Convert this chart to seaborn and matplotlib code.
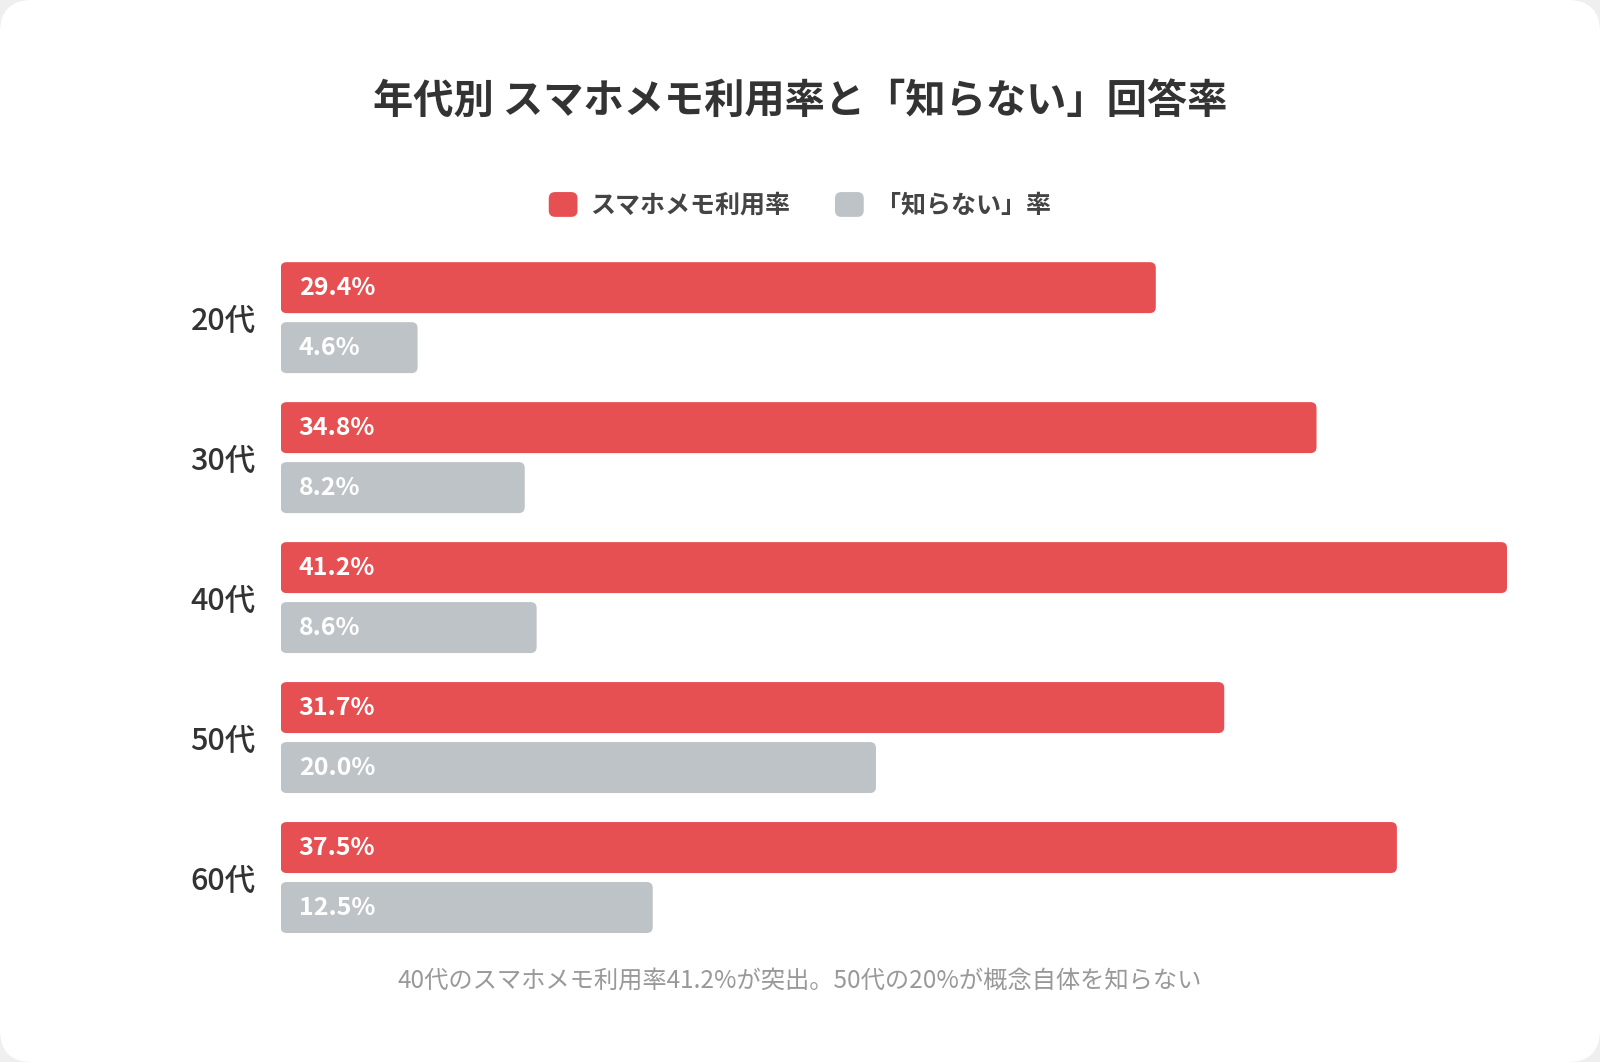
import pandas as pd
import seaborn as sns
from matplotlib import pyplot as plt
from matplotlib.patches import FancyBboxPatch, Rectangle
from matplotlib.legend_handler import HandlerPatch

# data
ages = ["20代", "30代", "40代", "50代", "60代"]
usage_rate = [29.4, 34.8, 41.2, 31.7, 37.5]
unknown_rate = [4.6, 8.2, 8.6, 20.0, 12.5]
series_names = ["スマホメモ利用率", "「知らない」率"]

title = "年代別 スマホメモ利用率と「知らない」回答率"
note = "40代のスマホメモ利用率41.2%が突出。50代の20%が概念自体を知らない"

RED = "#E65052"
GRAY = "#BDC3C7"
FONTS = ["Noto Sans CJK JP", "DejaVu Sans"]

df = pd.DataFrame({
    "age": ages * 2,
    "value": usage_rate + unknown_rate,
    "series": [series_names[0]] * len(ages) + [series_names[1]] * len(ages),
})

sns.set_theme(style="white")
plt.rcParams["font.family"] = FONTS

fig = plt.figure(figsize=(16, 10.62), dpi=100)
fig.patch.set_facecolor("#efefef")
# white card with rounded corners
card = FancyBboxPatch((0, 0), 16, 10.62, boxstyle="round,pad=0,rounding_size=0.32",
                      transform=fig.dpi_scale_trans, facecolor="white", edgecolor="none", zorder=-5)
fig.patches.append(card)

ax = fig.add_axes([0.1754, 0.1078, 0.7665, 0.659])
ax.set_facecolor("none")
sns.barplot(data=df, y="age", x="value", hue="series", orient="h",
            palette=[RED, GRAY], width=0.857, gap=0.15, ax=ax, saturation=1)
ax.set_xlim(0, 41.2)
ax.set_ylim(4.5, -0.5)

# rounded bars, built from the bars seaborn drew
fig.canvas.draw()
px_x = ax.transData.transform((1, 0))[0] - ax.transData.transform((0, 0))[0]
px_y = abs(ax.transData.transform((0, 1))[1] - ax.transData.transform((0, 0))[1])
radius = 6 / px_x
for bar in list(ax.patches):
    x, y, w, h = bar.get_x(), bar.get_y(), bar.get_width(), bar.get_height()
    if w == 0:
        continue
    rounded = FancyBboxPatch((x, y), w, h, boxstyle=f"round,pad=0,rounding_size={radius}",
                             mutation_aspect=px_x / px_y, facecolor=bar.get_facecolor(),
                             edgecolor="none", zorder=2)
    ax.add_patch(rounded)
    bar.set_visible(False)
    ax.annotate(f"{w:.1f}%", xy=(x, y + h / 2), xytext=(13, 0), textcoords="offset points",
                ha="left", va="center", color="white", fontsize=18, fontweight="bold", zorder=3)

sns.despine(ax=ax, left=True, bottom=True)
ax.set_xticks([])
ax.set_xlabel("")
ax.set_ylabel("")
ax.tick_params(axis="y", length=0, pad=18, labelsize=22, labelcolor="#333333")
for lbl in ax.get_yticklabels():
    lbl.set_fontweight("medium")


class RoundHandler(HandlerPatch):
    def create_artists(self, legend, orig_handle, xdescent, ydescent, width, height, fontsize, trans):
        p = FancyBboxPatch((-xdescent, -ydescent), width, height,
                           boxstyle=f"round,pad=0,rounding_size={width * 0.22}",
                           facecolor=orig_handle.get_facecolor(), edgecolor="none", transform=trans)
        return [p]


sns.move_legend(ax, "center", bbox_to_anchor=(0.5, 1 - 205 / 1062), bbox_transform=fig.transFigure,
                ncol=2, frameon=False, title=None, fontsize=18, handlelength=1.15, handleheight=1.15,
                handletextpad=0.5, columnspacing=1.8, handler_map={Rectangle: RoundHandler()})
for t in ax.get_legend().get_texts():
    t.set_color("#444444")
    t.set_fontweight("bold")

fig.text(0.5, 1 - 101 / 1062, title, ha="center", va="center", fontsize=29,
         fontweight="bold", color="#333333")
fig.text(0.5, 1 - 981 / 1062, note, ha="center", va="center", fontsize=17.5, color="#999999")

fig.savefig("out.png", dpi=100, facecolor=fig.get_facecolor())
